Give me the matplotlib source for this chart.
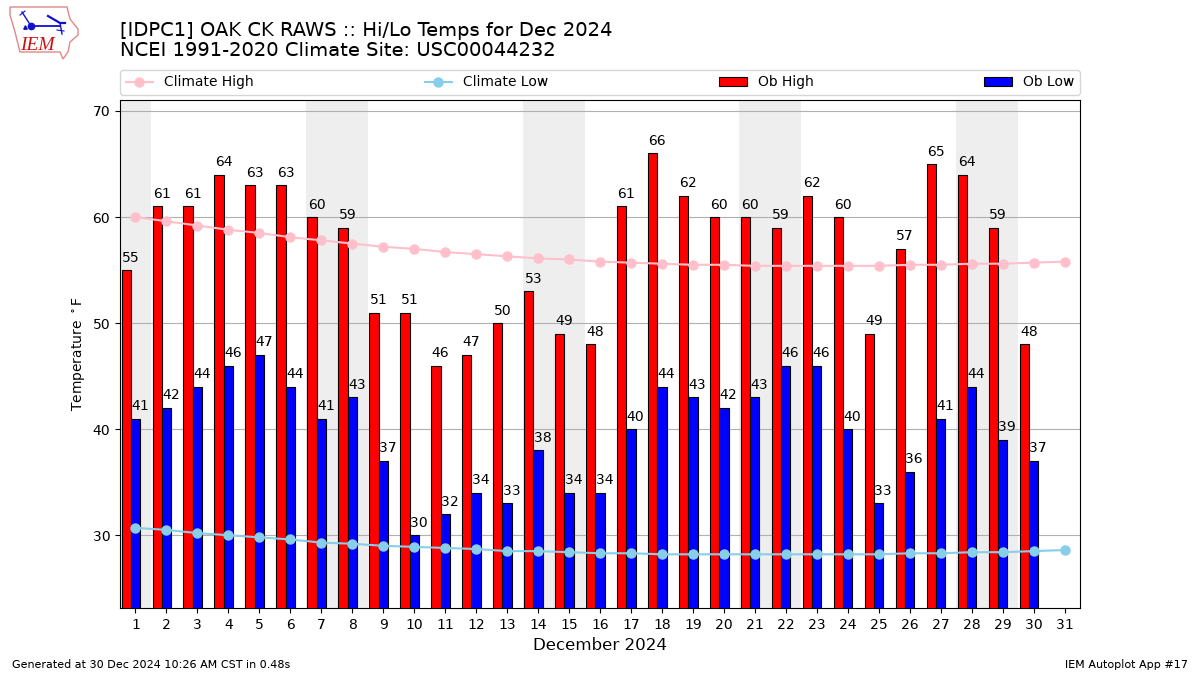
import matplotlib
matplotlib.use("Agg")
import matplotlib.pyplot as plt
from matplotlib.patches import Polygon

plt.rcParams["text.hinting"] = "no_autohint"

days = list(range(1, 32))
ob_days = list(range(1, 31))

ob_high = [55, 61, 61, 64, 63, 63, 60, 59, 51, 51, 46, 47, 50, 53, 49,
           48, 61, 66, 62, 60, 60, 59, 62, 60, 49, 57, 65, 64, 59, 48]
ob_low = [41, 42, 44, 46, 47, 44, 41, 43, 37, 30, 32, 34, 33, 38, 34,
          34, 40, 44, 43, 42, 43, 46, 46, 40, 33, 36, 41, 44, 39, 37]
climate_high = [60.0, 59.6, 59.2, 58.8, 58.5, 58.1, 57.8, 57.5, 57.2, 57.0, 56.7,
                56.5, 56.3, 56.1, 56.0, 55.8, 55.7, 55.6, 55.5, 55.5, 55.4, 55.4,
                55.4, 55.4, 55.4, 55.5, 55.5, 55.6, 55.6, 55.7, 55.8]
climate_low = [30.7, 30.5, 30.2, 30.0, 29.8, 29.6, 29.3, 29.2, 29.0, 28.9, 28.8,
               28.7, 28.5, 28.5, 28.4, 28.3, 28.3, 28.2, 28.2, 28.2, 28.2, 28.2,
               28.2, 28.2, 28.2, 28.3, 28.3, 28.4, 28.4, 28.5, 28.6]
weekends = [(0.5, 1.5), (6.5, 8.5), (13.5, 15.5), (20.5, 22.5), (27.5, 29.5)]

title = "[IDPC1] OAK CK RAWS :: Hi/Lo Temps for Dec 2024\nNCEI 1991-2020 Climate Site: USC00044232"

fig = plt.figure(figsize=(12, 6.75), dpi=100)
ax = fig.add_axes([0.1, 0.0993, 0.8, 0.7526])

for start, end in weekends:
    ax.axvspan(start, end, color="#eeeeee", lw=0, zorder=0)
ax.yaxis.grid(True, color="#b0b0b0", lw=0.8, zorder=1)
ax.set_axisbelow(True)

width = 0.3
ax.plot(days, climate_high, marker="o", ms=6.5, color="pink", label="Climate High", zorder=5)
ax.plot(days, climate_low, marker="o", ms=6.5, color="skyblue", label="Climate Low", zorder=5)
ax.bar([d - width for d in ob_days], ob_high, width, color="r", edgecolor="k",
       lw=0.8, label="Ob High", zorder=3)
ax.bar(ob_days, ob_low, width, color="b", edgecolor="k", lw=0.8, label="Ob Low", zorder=3)

for d, hi, lo in zip(ob_days, ob_high, ob_low):
    ax.text(d - width / 2, hi + 0.8, str(hi), ha="center", va="baseline", fontsize=10, zorder=6)
    ax.text(d + width / 2, lo + 0.8, str(lo), ha="center", va="baseline", fontsize=10, zorder=6)

ax.set_xlim(0.5, 31.5)
ax.set_ylim(23.14, 71.04)
ax.set_xticks(days)
ax.set_yticks([30, 40, 50, 60, 70])
ax.set_xlabel("December 2024", fontsize=12)
ax.set_ylabel(r"Temperature $^\circ$F")

handles, labels = ax.get_legend_handles_labels()
ax.legend(handles, labels, loc="lower left", bbox_to_anchor=(0, 1.0098, 1, 0.05),
          ncol=4, mode="expand", borderaxespad=0, fontsize=10)

fig.text(0.1, 0.9105, title, fontsize=14, ha="left", va="bottom", linespacing=1.2)
fig.text(0.01, 0.01, "Generated at 30 Dec 2024 10:26 AM CST in 0.48s", fontsize=8)
fig.text(0.99, 0.01, "IEM Autoplot App #17", fontsize=8, ha="right")

# small logo, state outline with a weather station and the letters
logo = fig.add_axes([0, 0.9, 0.075, 0.1])
logo.set_xlim(0, 90)
logo.set_ylim(67.5, 0)
logo.axis("off")
outline = [(10, 7), (67, 7), (70, 19), (78, 29), (78, 35), (70, 42), (68, 52), (63, 59),
           (60, 52), (20, 52), (15, 32), (10, 15)]
logo.add_patch(Polygon(outline, closed=True, fill=False, edgecolor="#e08888", lw=1.0))
logo.plot([31, 60], [26, 26], color="#1010d0", lw=1.3)
logo.plot([22, 31], [12, 26], color="#1010d0", lw=1.0)
logo.plot([20, 25], [15, 11], color="#1010d0", lw=0.8)
logo.plot([31], [26], "o", color="#1010d0", ms=4.5)
logo.plot([25], [27], "^", color="#1010d0", ms=2.5)
logo.plot([48, 60, 65], [16, 23, 23], color="#1010d0", lw=1.6)
logo.plot([60, 62], [23, 34], color="#1010d0", lw=1.0)
logo.plot([57, 64], [30, 31], color="#1010d0", lw=0.8)
logo.text(37.5, 45, "IEM", color="#d01010", fontsize=14, family="Liberation Serif",
          style="italic", ha="center", va="center")

fig.savefig("out.png", dpi=100)
